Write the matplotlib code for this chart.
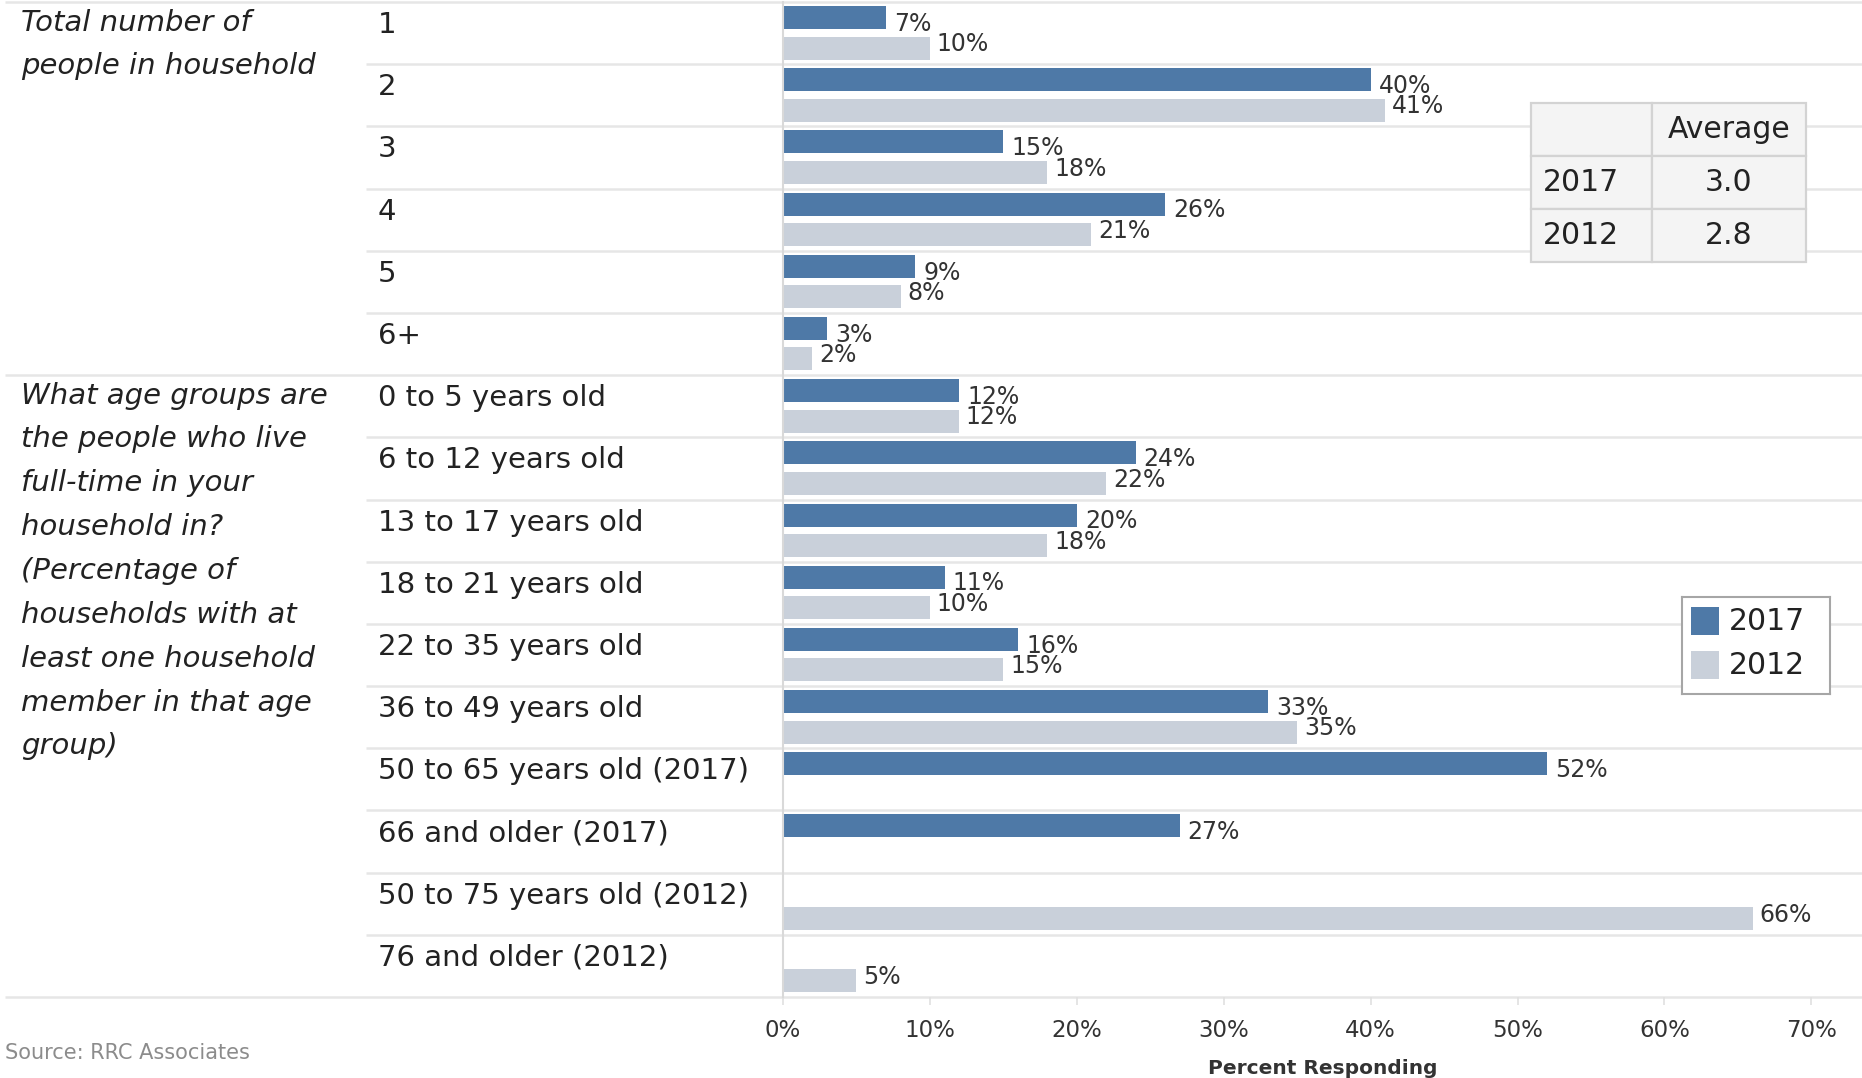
import matplotlib.pyplot as plt
from matplotlib.patches import Rectangle

# data
categories = ["1", "2", "3", "4", "5", "6+",
              "0 to 5 years old", "6 to 12 years old", "13 to 17 years old",
              "18 to 21 years old", "22 to 35 years old", "36 to 49 years old",
              "50 to 65 years old (2017)", "66 and older (2017)",
              "50 to 75 years old (2012)", "76 and older (2012)"]
pct_2017 = [7, 40, 15, 26, 9, 3, 12, 24, 20, 11, 16, 33, 52, 27, None, None]
pct_2012 = [10, 41, 18, 21, 8, 2, 12, 22, 18, 10, 15, 35, None, None, 66, 5]

group_start = [0, 6]
group_text = [
    ["Total number of", "people in household"],
    ["What age groups are", "the people who live", "full-time in your",
     "household in?", "(Percentage of", "households with at",
     "least one household", "member in that age", "group)"],
]

avg_years = ["2017", "2012"]
avg_values = ["3.0", "2.8"]
x_ticks = [0, 10, 20, 30, 40, 50, 60, 70]
legend_labels = ["2017", "2012"]

BLUE = "#4e79a7"
GRAY = "#c9d0da"
LINE = "#e6e6e6"
TXT = "#222222"

W, H = 1862, 1078
top_px, bot_px, left_px = 2, 997, 783
n = len(categories)

fig = plt.figure(figsize=(W / 100, H / 100), dpi=100)

# background axes spanning full width, y in row units
bg = fig.add_axes([0, 1 - bot_px / H, 1, (bot_px - top_px) / H])
bg.set_xlim(0, 1)
bg.set_ylim(n, 0)
bg.axis("off")

for i in range(n + 1):
    xmin = 5 / W if i in group_start or i == n else 366 / W
    bg.hlines(i, xmin, 1, color=LINE, lw=1.8, clip_on=False)

for i, cat in enumerate(categories):
    bg.text(378 / W, i + 0.37, cat, fontsize=21, color=TXT, va="center")

for start, lines in zip(group_start, group_text):
    for k, line in enumerate(lines):
        bg.text(21 / W, start + 0.33 + k * 0.705, line, fontsize=21,
                style="italic", color=TXT, va="center")

# bar axes
ax = fig.add_axes([left_px / W, 1 - bot_px / H, 1 - left_px / W, (bot_px - top_px) / H])
ax.patch.set_visible(False)

rows17 = [i for i, v in enumerate(pct_2017) if v is not None]
rows12 = [i for i, v in enumerate(pct_2012) if v is not None]
ax.barh([i + 0.25 for i in rows17], [pct_2017[i] for i in rows17], height=0.37, color=BLUE)
ax.barh([i + 0.74 for i in rows12], [pct_2012[i] for i in rows12], height=0.37, color=GRAY)

for i in rows17:
    ax.text(pct_2017[i] + 0.55, i + 0.35, f"{pct_2017[i]}%", fontsize=17, color="#333333", va="center")
for i in rows12:
    ax.text(pct_2012[i] + 0.45, i + 0.68, f"{pct_2012[i]}%", fontsize=17, color="#333333", va="center")

ax.set_xlim(0, 73.45)
ax.set_ylim(n, 0)
for s in ["top", "right", "bottom"]:
    ax.spines[s].set_visible(False)
ax.spines["left"].set_color("#d9d9d9")
ax.spines["left"].set_linewidth(1.5)
ax.set_xticks(x_ticks)
ax.set_xticklabels([f"{t}%" for t in x_ticks])
ax.tick_params(axis="x", length=6, width=1.2, color="#e0e0e0", labelsize=16.5,
               labelcolor="#333333", pad=10)
ax.tick_params(axis="y", left=False, labelleft=False)
ax.set_xlabel("Percent Responding", fontsize=14.5, fontweight="bold", color="#333333", labelpad=12)

# average table
tax = fig.add_axes([1531 / W, 1 - 262 / H, 275 / W, 159 / H])
tax.axis("off")
cells = [["", "Average"]] + [[y, v] for y, v in zip(avg_years, avg_values)]
tbl = tax.table(cellText=cells, bbox=[0, 0, 1, 1], colWidths=[121 / 275, 154 / 275], cellLoc="center")
tbl.auto_set_font_size(False)
tbl.set_fontsize(21.5)
for (r, c), cell in tbl.get_celld().items():
    cell.set_facecolor("#f4f4f4")
    cell.set_edgecolor("#d3d3d3")
    cell.set_linewidth(1.6)
    cell.get_text().set_color(TXT)
    if c == 0:
        cell.get_text().set_ha("left")

# legend box, drawn in its own small axes (pixel units)
lax = fig.add_axes([1682 / W, 1 - 694 / H, 148 / W, 97 / H])
lax.set_xlim(0, 148)
lax.set_ylim(97, 0)
lax.set_xticks([])
lax.set_yticks([])
for s in lax.spines.values():
    s.set_color("#a6a6a6")
    s.set_linewidth(1.5)
for k, (lab, col) in enumerate(zip(legend_labels, [BLUE, GRAY])):
    lax.add_patch(Rectangle((9, 10 + k * 44), 28, 28, facecolor=col, edgecolor="none"))
    lax.text(47, 24 + k * 44, lab, fontsize=21.5, color=TXT, va="center")

fig.text(5 / W, 1 - 1053 / H, "Source: RRC Associates", fontsize=15, color="#8c8c8c", va="center")

fig.savefig("out.png", dpi=100)
